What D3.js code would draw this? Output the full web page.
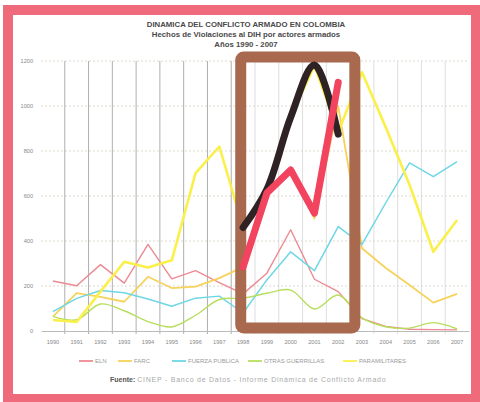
<!DOCTYPE html>
<html>
<head>
<meta charset="utf-8">
<script src="https://cdn.jsdelivr.net/npm/d3@7"></script>
<style>
  body { margin: 0; background: #fff; }
  svg { display: block; }
</style>
</head>
<body>
<div id="chart"></div>
<script>
// values
const years = [1990,1991,1992,1993,1994,1995,1996,1997,1998,1999,2000,2001,2002,2003,2004,2005,2006,2007];
const eln             = [222,201,295,213,385,232,268,215,165,257,450,230,175,55,20,8,6,5];
const farc            = [64,168,152,130,241,191,197,235,285,610,715,500,1000,368,280,204,126,165];
const fuerzaPublica   = [86,145,180,170,142,110,146,155,80,227,352,268,464,385,570,747,686,753];
const otrasGuerrillas = [65,50,120,90,42,18,70,140,146,168,182,98,160,58,19,13,37,9];
const paramilitares   = [49,40,175,308,282,314,702,820,460,630,950,1180,884,1150,905,650,352,493];
const yTicks = [0,200,400,600,800,1000,1200];

// hand-drawn marks on top of the printed chart
const markYears  = [1998,1999,2000,2001,2002];
const blackMark  = [460,630,950,1182,875];
const redMark    = [285,613,716,524,1105];
const boxYears   = [1997.9, 2002.7];
const boxValues  = [13, 1218];

const series = [
  {name: "ELN", values: eln, color: "#ec8a92", width: 1.4},
  {name: "FARC", values: farc, color: "#f6d35c", width: 1.8},
  {name: "FUERZA PUBLICA", values: fuerzaPublica, color: "#6fd6e6", width: 1.5},
  {name: "OTRAS GUERRILLAS", values: otrasGuerrillas, color: "#b8de5e", width: 1.4, smooth: true},
  {name: "PARAMILITARES", values: paramilitares, color: "#fbf04a", width: 2.6}
];

const width = 480, height = 402;
const margin = {top: 61, right: 11, bottom: 71, left: 41};

const svg = d3.select("#chart").append("svg")
  .attr("width", width)
  .attr("height", height)
  .style("font-family", "'Liberation Sans', Arial, sans-serif");

// photo frame
svg.append("rect")
  .attr("x", 8).attr("y", 10)
  .attr("width", 468).attr("height", 389)
  .attr("fill", "#fff")
  .attr("stroke", "#ef6a7b")
  .attr("stroke-width", 10);

const xBand = d3.scaleBand(years, [margin.left, width - margin.right]).padding(0);
const bw = xBand.bandwidth();
const x = d => xBand(d) + bw / 2;
const xLin = d3.scaleLinear([years[0], years[years.length - 1]], [x(years[0]), x(years[years.length - 1])]);
const y = d3.scaleLinear([0, 1200], [height - margin.bottom, margin.top]);

// titles
const titles = [
  ["DINAMICA DEL CONFLICTO ARMADO EN COLOMBIA", 27],
  ["Hechos de Violaciones al DIH por actores armados", 37],
  ["Años 1990 - 2007", 47]
];
svg.append("g")
  .selectAll("text")
  .data(titles)
  .join("text")
  .attr("x", 246)
  .attr("y", d => d[1])
  .attr("text-anchor", "middle")
  .attr("font-size", 7.8)
  .attr("font-weight", "bold")
  .attr("fill", "#4a4a4a")
  .text(d => d[0]);

// horizontal dotted grid
svg.append("g")
  .selectAll("line")
  .data(yTicks.slice(1))
  .join("line")
  .attr("x1", margin.left).attr("x2", width - margin.right)
  .attr("y1", d => y(d)).attr("y2", d => y(d))
  .attr("stroke", "#d8cfc4")
  .attr("stroke-dasharray", "2,2")
  .attr("stroke-width", 0.8);

// vertical grid at category boundaries
svg.append("g")
  .selectAll("line")
  .data(years.slice(1))
  .join("line")
  .attr("x1", d => xBand(d)).attr("x2", d => xBand(d))
  .attr("y1", y(1200)).attr("y2", y(0) + 3)
  .attr("stroke", (d, i) => i < 8 ? "#9a9a9a" : "#d6d6d6")
  .attr("stroke-width", 0.8);

// x axis
const xAxis = svg.append("g")
  .attr("transform", `translate(0,${y(0)})`)
  .call(d3.axisBottom(xBand).tickSize(0).tickPadding(9));
xAxis.select(".domain").attr("stroke", "#bbb");
xAxis.selectAll("text").attr("font-size", 5.6).attr("fill", "#888")
  .attr("font-family", "'Liberation Sans', Arial, sans-serif");

// y axis labels
const yAxis = svg.append("g")
  .attr("transform", `translate(${margin.left - 6},0)`)
  .call(d3.axisLeft(y).tickValues(yTicks).tickFormat(d3.format("d")).tickSize(0).tickPadding(2));
yAxis.select(".domain").remove();
yAxis.selectAll("text").attr("font-size", 5.6).attr("fill", "#888")
  .attr("font-family", "'Liberation Sans', Arial, sans-serif");

// series
const line = d3.line().x((d, i) => x(years[i])).y(d => y(d));
const smoothLine = d3.line().x((d, i) => x(years[i])).y(d => y(d)).curve(d3.curveCatmullRom);

svg.append("g")
  .selectAll("path")
  .data(series)
  .join("path")
  .attr("d", d => (d.smooth ? smoothLine : line)(d.values))
  .attr("fill", "none")
  .attr("stroke", d => d.color)
  .attr("stroke-width", d => d.width)
  .attr("stroke-linejoin", "round");

// brown box drawn over the chart
svg.append("rect")
  .attr("x", xLin(boxYears[0]))
  .attr("y", y(boxValues[1]))
  .attr("width", xLin(boxYears[1]) - xLin(boxYears[0]))
  .attr("height", y(boxValues[0]) - y(boxValues[1]))
  .attr("rx", 3)
  .attr("fill", "none")
  .attr("stroke", "#a8694e")
  .attr("stroke-width", 11);

// marker strokes
const markLine = d3.line().x((d, i) => xLin(markYears[i])).y(d => y(d));
svg.append("path")
  .attr("d", markLine.curve(d3.curveCatmullRom)(blackMark))
  .attr("fill", "none")
  .attr("stroke", "#2e2224")
  .attr("stroke-width", 7)
  .attr("stroke-linecap", "round")
  .attr("stroke-linejoin", "round");
svg.append("path")
  .attr("d", d3.line().x((d, i) => xLin(markYears[i])).y(d => y(d))(redMark))
  .attr("fill", "none")
  .attr("stroke", "#f2445f")
  .attr("stroke-width", 7)
  .attr("stroke-linecap", "round")
  .attr("stroke-linejoin", "round");

// legend
const legendX = [79, 118, 172, 248, 343];
const legend = svg.append("g")
  .selectAll("g")
  .data(series)
  .join("g")
  .attr("transform", (d, i) => `translate(${legendX[i]},361)`);
legend.append("line")
  .attr("x1", 0).attr("x2", 14)
  .attr("stroke", d => d.color)
  .attr("stroke-width", 1.8);
legend.append("text")
  .attr("x", 16).attr("y", 2.2)
  .attr("font-size", 6)
  .attr("fill", "#999")
  .text(d => d.name);

// source
const src = svg.append("text")
  .attr("x", 110).attr("y", 382)
  .attr("font-size", 7)
  .attr("fill", "#aaa");
src.append("tspan").attr("font-weight", "bold").attr("fill", "#555").text("Fuente: ");
src.append("tspan").attr("letter-spacing", 0.75)
  .text("CINEP - Banco de Datos - Informe Dinámica de Conflicto Armado");
</script>
</body>
</html>
